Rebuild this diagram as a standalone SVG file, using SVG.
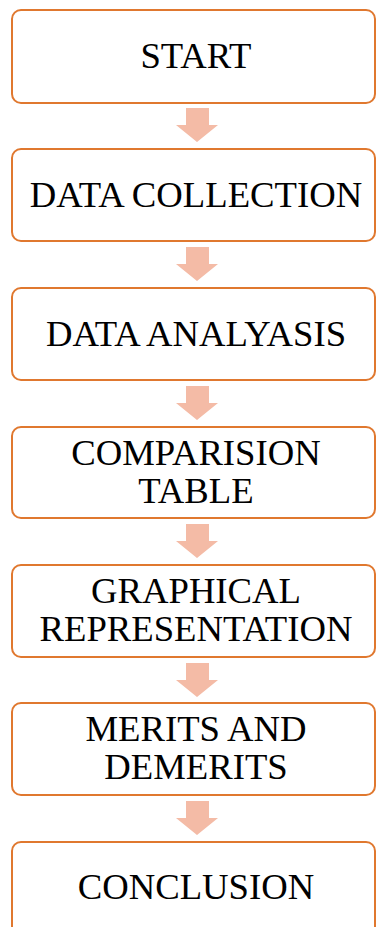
<svg xmlns="http://www.w3.org/2000/svg" width="377" height="927" viewBox="0 0 377 927">
<style>
.box{fill:#fff;stroke:#E0782F;stroke-width:2}
.lbl{font-family:"Liberation Serif","Times New Roman",serif;font-size:36.7px;fill:#000;text-anchor:middle}
.arr{fill:#F4BBA6}
</style>
<rect width="377" height="927" fill="#fff"/>
<g id="connectors">
<path class="arr" d="M186,108H209V125H218L197,142L176,125H186Z"/>
<path class="arr" d="M186,247H209V264H218L197,281L176,264H186Z"/>
<path class="arr" d="M186,386H209V403H218L197,420L176,403H186Z"/>
<path class="arr" d="M186,524H209V541H218L197,558L176,541H186Z"/>
<path class="arr" d="M186,663H209V680H218L197,697L176,680H186Z"/>
<path class="arr" d="M186,801H209V818H218L197,835L176,818H186Z"/>
</g>
<g id="start"><rect class="box" x="12" y="10" width="363" height="93" rx="9"/><text class="lbl" x="196" y="68">START</text></g>
<g id="data-collection"><rect class="box" x="12" y="149" width="363" height="92" rx="9"/><text class="lbl" x="196" y="207">DATA COLLECTION</text></g>
<g id="data-analysis"><rect class="box" x="12" y="288" width="363" height="92" rx="9"/><text class="lbl" x="196" y="346">DATA ANALYASIS</text></g>
<g id="comparision-table"><rect class="box" x="12" y="427" width="363" height="91" rx="9"/><text class="lbl" x="196" y="465">COMPARISION</text><text class="lbl" x="196" y="503">TABLE</text></g>
<g id="graphical-representation"><rect class="box" x="12" y="565" width="363" height="92" rx="9"/><text class="lbl" x="196" y="603">GRAPHICAL</text><text class="lbl" x="196" y="641">REPRESENTATION</text></g>
<g id="merits-demerits"><rect class="box" x="12" y="703" width="363" height="92" rx="9"/><text class="lbl" x="196" y="741">MERITS AND</text><text class="lbl" x="196" y="779">DEMERITS</text></g>
<g id="conclusion"><rect class="box" x="12" y="842" width="363" height="93" rx="9"/><text class="lbl" x="196" y="899">CONCLUSION</text></g>
</svg>
